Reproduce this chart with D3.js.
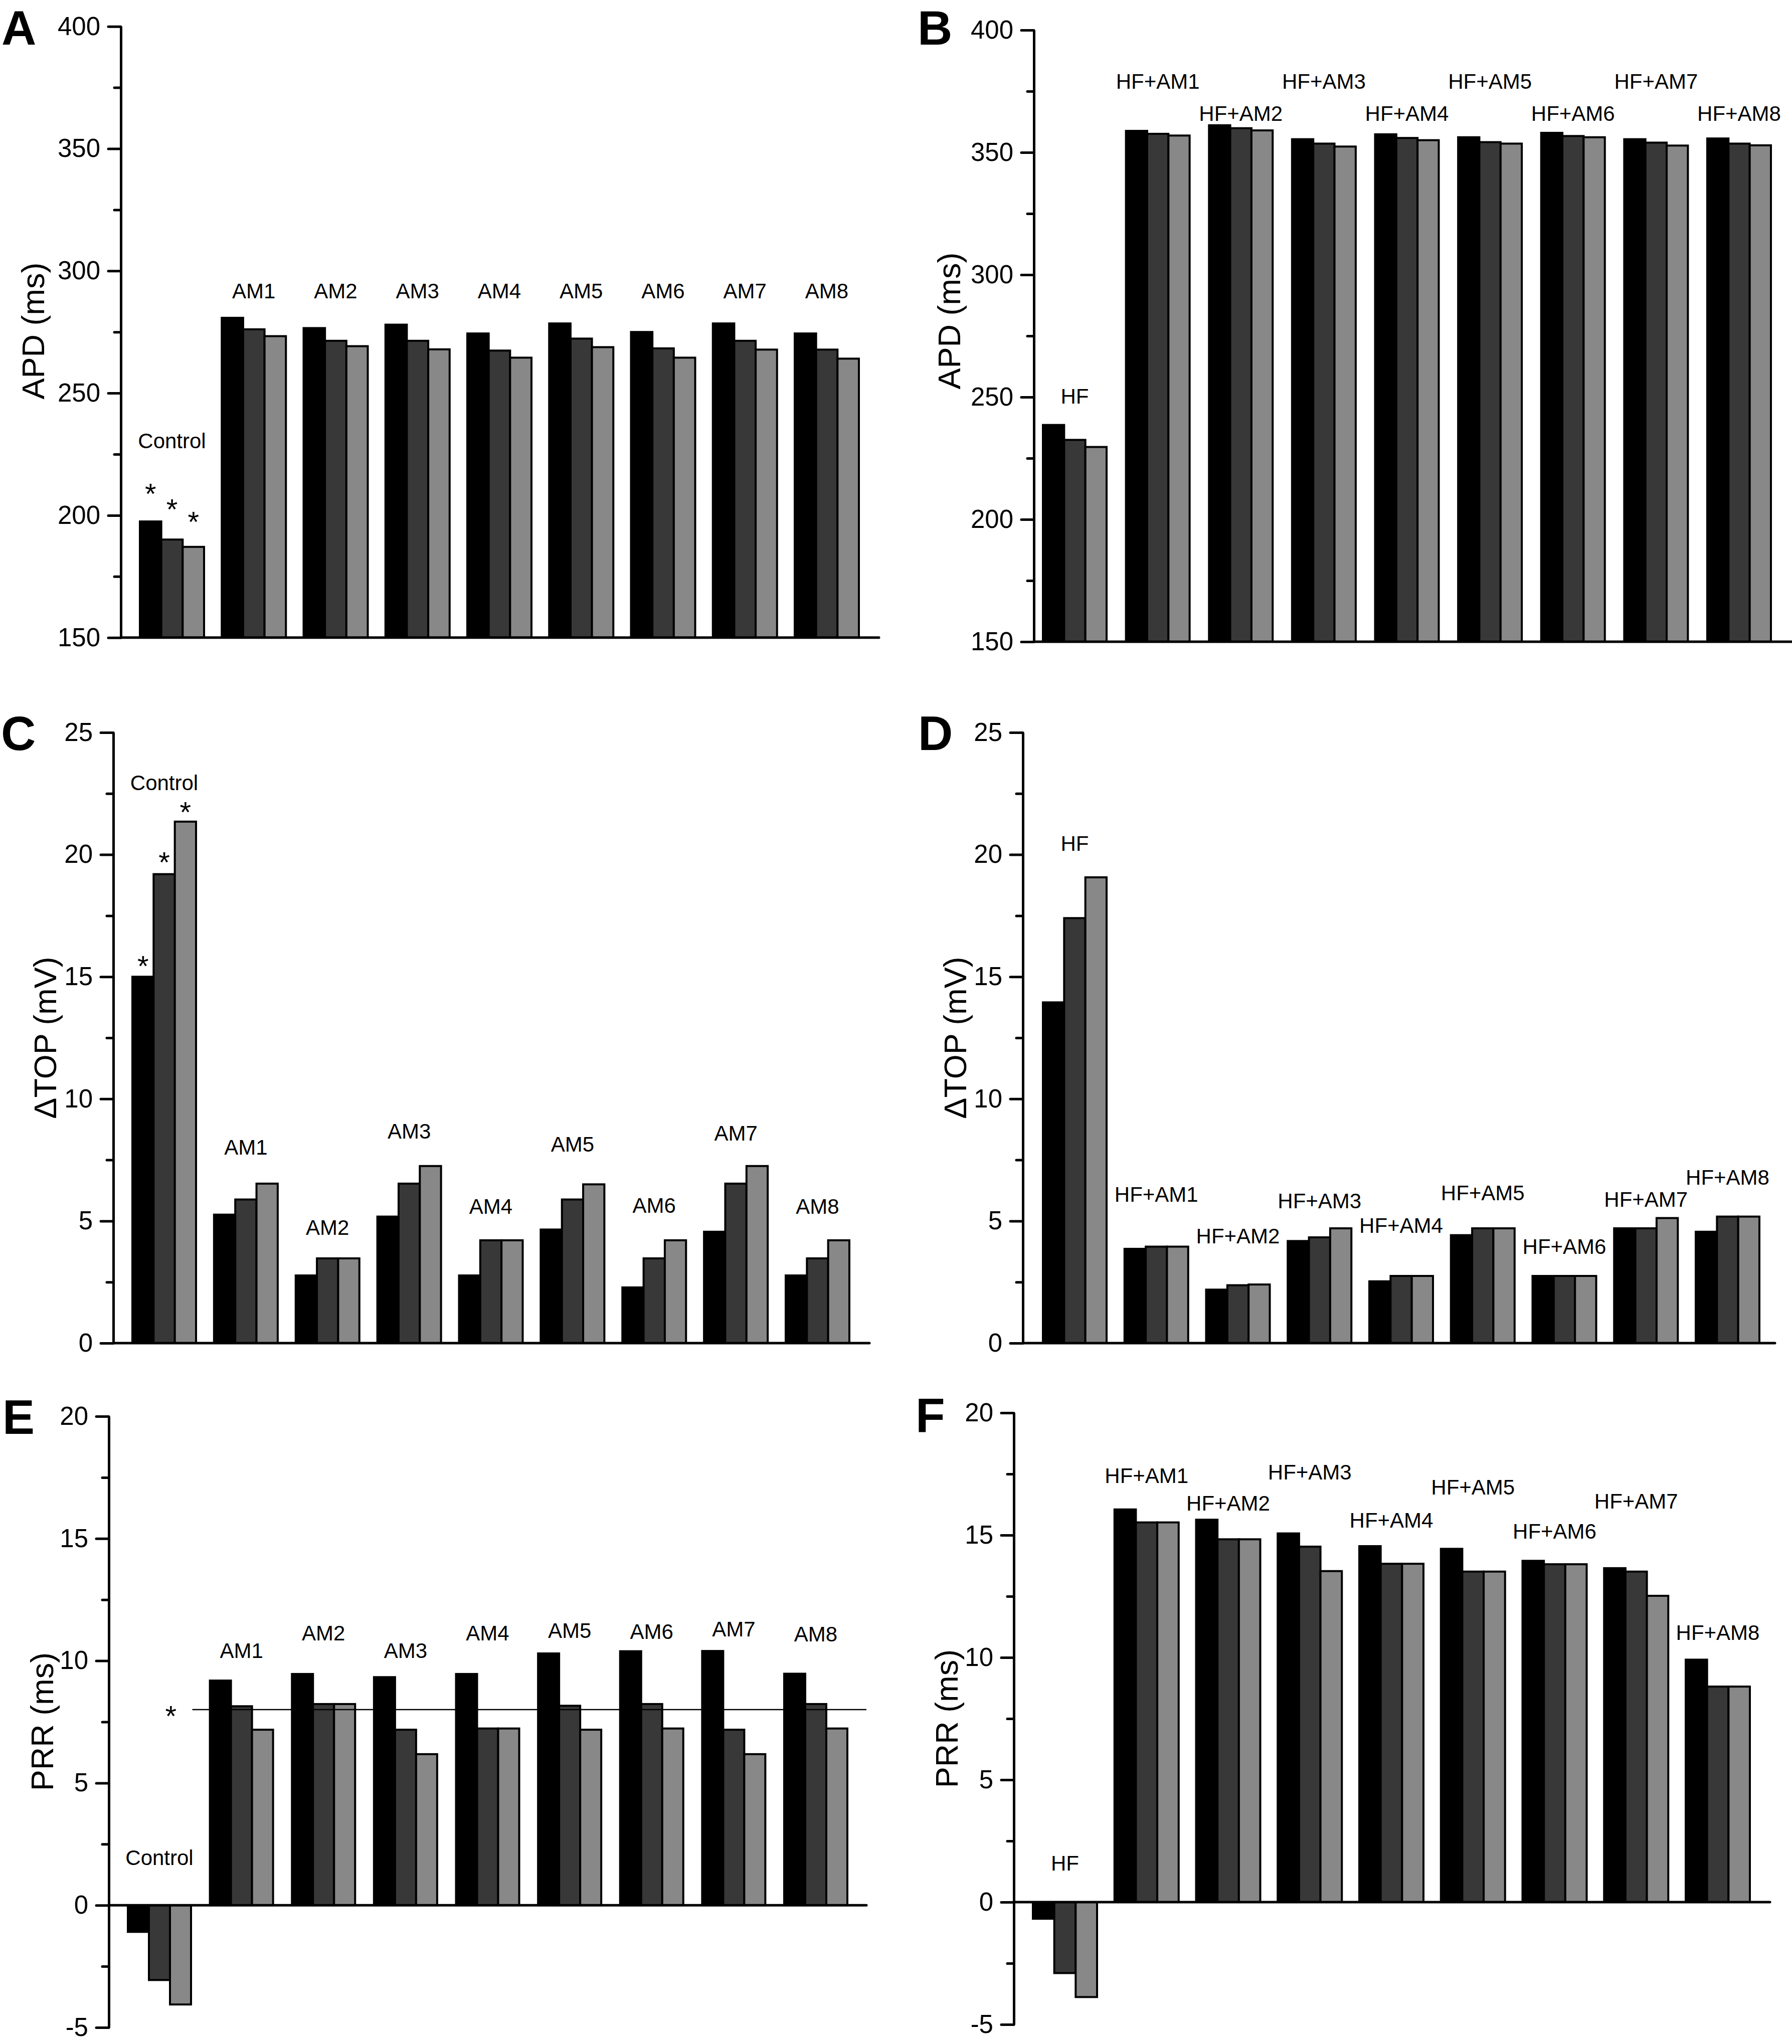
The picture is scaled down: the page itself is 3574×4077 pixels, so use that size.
<!DOCTYPE html>
<html>
<head>
<meta charset="utf-8">
<script src="https://cdn.jsdelivr.net/npm/d3@7/dist/d3.min.js"></script>
<style>
  html, body { margin: 0; padding: 0; background: #fff; }
  svg { display: block; }
  text { font-family: "Liberation Sans", Arial, Helvetica, sans-serif; fill: #000; }
</style>
</head>
<body>
<svg id="chart" width="3574" height="4077"></svg>
<script>
// ---------------- DATA ----------------
const groupsCtrl = ["Control", "AM1", "AM2", "AM3", "AM4", "AM5", "AM6", "AM7", "AM8"];
const groupsHF = ["HF", "HF+AM1", "HF+AM2", "HF+AM3", "HF+AM4", "HF+AM5", "HF+AM6", "HF+AM7", "HF+AM8"];
const seriesColors = ["#000000", "#383838", "#888888"];

// Panel A: APD (ms), control + AM drugs
const apdCtrl1 = [197.5, 280.8, 276.6, 278.0, 274.4, 278.5, 275.0, 278.5, 274.4];
const apdCtrl2 = [190.1, 276.1, 271.4, 271.4, 267.4, 272.3, 268.3, 271.4, 267.8];
const apdCtrl3 = [187.1, 273.3, 269.2, 267.9, 264.5, 268.8, 264.5, 267.8, 264.1];
// Panel B: APD (ms), HF + AM drugs
const apdHF1 = [238.6, 358.8, 361.1, 355.4, 357.4, 356.2, 358.0, 355.4, 355.7];
const apdHF2 = [232.5, 357.6, 359.9, 353.6, 355.9, 354.2, 356.7, 354.0, 353.6];
const apdHF3 = [229.6, 356.9, 359.0, 352.4, 355.0, 353.6, 356.2, 352.8, 352.9];
// Panel C: ΔTOP (mV), control
const topCtrl1 = [15.0, 5.26, 2.77, 5.18, 2.77, 4.65, 2.28, 4.56, 2.77];
const topCtrl2 = [19.2, 5.88, 3.47, 6.53, 4.21, 5.88, 3.47, 6.53, 3.47];
const topCtrl3 = [21.35, 6.53, 3.47, 7.25, 4.21, 6.5, 4.21, 7.25, 4.21];
// Panel D: ΔTOP (mV), HF
const topHF1 = [13.95, 3.86, 2.19, 4.18, 2.53, 4.42, 2.75, 4.7, 4.56];
const topHF2 = [17.4, 3.95, 2.37, 4.33, 2.75, 4.7, 2.75, 4.7, 5.18];
const topHF3 = [19.07, 3.95, 2.4, 4.7, 2.75, 4.7, 2.75, 5.12, 5.18];
// Panel E: PRR (ms), control
const prrCtrl1 = [-1.09, 9.19, 9.46, 9.33, 9.46, 10.3, 10.39, 10.4, 9.47];
const prrCtrl2 = [-3.06, 8.14, 8.23, 7.18, 7.23, 8.16, 8.23, 7.18, 8.23];
const prrCtrl3 = [-4.06, 7.18, 8.23, 6.18, 7.23, 7.18, 7.23, 6.18, 7.23];
// Panel F: PRR (ms), HF
const prrHF1 = [-0.68, 16.05, 15.63, 15.07, 14.55, 14.44, 13.95, 13.65, 9.91];
const prrHF2 = [-2.9, 15.52, 14.83, 14.53, 13.83, 13.51, 13.81, 13.51, 8.81];
const prrHF3 = [-3.88, 15.52, 14.83, 13.53, 13.83, 13.51, 13.81, 12.52, 8.81];

// tick values
const apdTicks = [150, 200, 250, 300, 350, 400];
const topTicks = [0, 5, 10, 15, 20, 25];
const prrTicks = [-5, 0, 5, 10, 15, 20];
// significance reference in panel E (ms)
const prrCtrlRef = 8.0;

// group label heights (data units, label centre)
const labA = [230.6, 291.9, 291.9, 291.9, 291.9, 291.9, 291.9, 291.9, 291.9];
const labB = [250.4, 379.1, 366.0, 379.1, 366.0, 379.1, 366.0, 379.1, 366.0];
const labC = [22.95, 8.03, 4.74, 8.68, 5.61, 8.15, 5.64, 8.6, 5.61];
const labD = [20.46, 6.1, 4.4, 5.84, 4.83, 6.16, 3.97, 5.9, 6.8];
const labE = [1.95, 10.42, 11.15, 10.42, 11.15, 11.25, 11.2, 11.3, 11.1];
const labF = [1.6, 17.44, 16.31, 17.58, 15.62, 16.97, 15.16, 16.39, 11.02];
// asterisk heights (data units, star centre) above Control bars
const starsA = [211.5, 205.1, 200.0];
const starsC = [15.7, 19.95, 22.0];

// ---------------- LAYOUT ----------------
const panels = [
  { letter: "A", groups: groupsCtrl, series: [apdCtrl1, apdCtrl2, apdCtrl3], ticks: apdTicks, minor: 25,
    domain: [150, 400], base: 150, title: "APD (ms)", labels: labA, stars: starsA,
    axisX: 241, xEnd: 1753, yTop: 52.7, yBot: 1271.7, first: 279, last: 1585, gw: 128,
    letterX: 3, letterY: 89, titleX: 88, titleY: 660 },
  { letter: "B", groups: groupsHF, series: [apdHF1, apdHF2, apdHF3], ticks: apdTicks, minor: 25,
    domain: [150, 400], base: 150, title: "APD (ms)", labels: labB,
    axisX: 2062, xEnd: 3574, yTop: 60, yBot: 1280, first: 2080, last: 3405, gw: 127,
    letterX: 1830, letterY: 89, titleX: 1915, titleY: 640 },
  { letter: "C", groups: groupsCtrl, series: [topCtrl1, topCtrl2, topCtrl3], ticks: topTicks, minor: 2.5,
    domain: [0, 25], base: 0, title: "\u0394TOP (mV)", labels: labC, stars: starsC,
    axisX: 226, xEnd: 1734, yTop: 1461, yBot: 2679, first: 264, last: 1567, gw: 127,
    letterX: 2, letterY: 1496, titleX: 112, titleY: 2070 },
  { letter: "D", groups: groupsHF, series: [topHF1, topHF2, topHF3], ticks: topTicks, minor: 2.5,
    domain: [0, 25], base: 0, title: "\u0394TOP (mV)", labels: labD,
    axisX: 2040, xEnd: 3540, yTop: 1461, yBot: 2679, first: 2080, last: 3382, gw: 127,
    letterX: 1831, letterY: 1496, titleX: 1927, titleY: 2070 },
  { letter: "E", groups: groupsCtrl, series: [prrCtrl1, prrCtrl2, prrCtrl3], ticks: prrTicks, minor: 2.5,
    domain: [-5, 20], base: 0, title: "PRR (ms)", labels: labE, refLine: prrCtrlRef,
    axisX: 217, xEnd: 1728, yTop: 2825, yBot: 4044, first: 255, last: 1564, gw: 126,
    letterX: 5, letterY: 2860, titleX: 106, titleY: 3434 },
  { letter: "F", groups: groupsHF, series: [prrHF1, prrHF2, prrHF3], ticks: prrTicks, minor: 2.5,
    domain: [-5, 20], base: 0, title: "PRR (ms)", labels: labF,
    axisX: 2022, xEnd: 3530, yTop: 2818, yBot: 4038, first: 2060, last: 3362, gw: 128,
    letterX: 1826, letterY: 2856, titleX: 1910, titleY: 3428 }
];

const svg = d3.select("#chart");
svg.append("rect").attr("width", 3574).attr("height", 4077).attr("fill", "#fff");

panels.forEach(p => {
  const g = svg.append("g");
  const y = d3.scaleLinear().domain(p.domain).range([p.yBot, p.yTop]);
  const n = p.groups.length;
  const step = (p.last - p.first) / (n - 1);
  const pad = 1 - p.gw / step;
  const x = d3.scaleBand().domain(p.groups).range([p.first, p.last + p.gw]).paddingInner(pad).paddingOuter(0);
  const xi = d3.scaleBand().domain([0, 1, 2]).range([0, x.bandwidth()]);

  // bars
  p.series.forEach((vals, si) => {
    g.append("g").selectAll("rect").data(vals).join("rect")
      .attr("x", (d, i) => x(p.groups[i]) + xi(si))
      .attr("width", xi.bandwidth())
      .attr("y", d => y(Math.max(d, p.base)))
      .attr("height", d => Math.abs(y(d) - y(p.base)))
      .attr("fill", seriesColors[si])
      .attr("stroke", "#000")
      .attr("stroke-width", 4);
  });

  // x baseline
  g.append("line")
    .attr("x1", p.axisX).attr("x2", p.xEnd)
    .attr("y1", y(p.base)).attr("y2", y(p.base))
    .attr("stroke", "#000").attr("stroke-width", 5).attr("stroke-linecap", "round");

  // y axis: minor ticks
  const minorVals = d3.range(p.domain[0], p.domain[1] + 1e-9, p.minor).filter(v => !p.ticks.includes(v));
  const minorAxis = d3.axisLeft(y).tickValues(minorVals).tickSize(13).tickSizeOuter(0).tickFormat("");
  const ga2 = g.append("g").attr("transform", `translate(${p.axisX},0)`).call(minorAxis);
  ga2.select(".domain").remove();
  ga2.selectAll(".tick line").attr("stroke", "#000").attr("stroke-width", 5).attr("stroke-linecap", "round");

  // y axis: major ticks + labels (plain hyphen for negatives, as in the original)
  const axis = d3.axisLeft(y).tickValues(p.ticks).tickSize(25).tickSizeOuter(0).tickPadding(16)
    .tickFormat(d => String(d));
  const ga = g.append("g").attr("transform", `translate(${p.axisX},0)`).call(axis);
  ga.select(".domain").attr("stroke", "#000").attr("stroke-width", 5);
  ga.selectAll(".tick line").attr("stroke", "#000").attr("stroke-width", 5).attr("stroke-linecap", "round");
  ga.selectAll(".tick text")
    .attr("font-family", '"Liberation Sans", Arial, sans-serif')
    .attr("font-size", 51).attr("fill", "#000");

  // group labels
  g.append("g").selectAll("text").data(p.groups).join("text")
    .attr("x", d => x(d) + x.bandwidth() / 2)
    .attr("y", (d, i) => y(p.labels[i]))
    .attr("dy", "0.36em")
    .attr("text-anchor", "middle")
    .attr("font-size", 42)
    .text(d => d);

  // stars over the Control bars
  if (p.stars) {
    g.append("g").selectAll("text").data(p.stars).join("text")
      .attr("x", (d, i) => x(p.groups[0]) + xi(i) + xi.bandwidth() / 2)
      .attr("y", d => y(d))
      .attr("dy", "0.57em")
      .attr("text-anchor", "middle")
      .attr("font-size", 58)
      .text("*");
  }

  // reference line with star (panel E)
  if (p.refLine !== undefined) {
    g.append("line")
      .attr("x1", x(p.groups[0]) + x.bandwidth() * 1.02).attr("x2", p.xEnd)
      .attr("y1", y(p.refLine)).attr("y2", y(p.refLine))
      .attr("stroke", "#000").attr("stroke-width", 2.5);
    g.append("text")
      .attr("x", x(p.groups[0]) + x.bandwidth() * 0.68)
      .attr("y", y(p.refLine))
      .attr("dy", "0.57em")
      .attr("text-anchor", "middle")
      .attr("font-size", 58)
      .text("*");
  }

  // axis title
  g.append("text")
    .attr("transform", `translate(${p.titleX},${p.titleY}) rotate(-90)`)
    .attr("text-anchor", "middle")
    .attr("font-size", 63)
    .text(p.title);

  // panel letter
  g.append("text")
    .attr("x", p.letterX).attr("y", p.letterY)
    .attr("font-size", 96).attr("font-weight", "bold")
    .text(p.letter);
});
</script>
</body>
</html>
